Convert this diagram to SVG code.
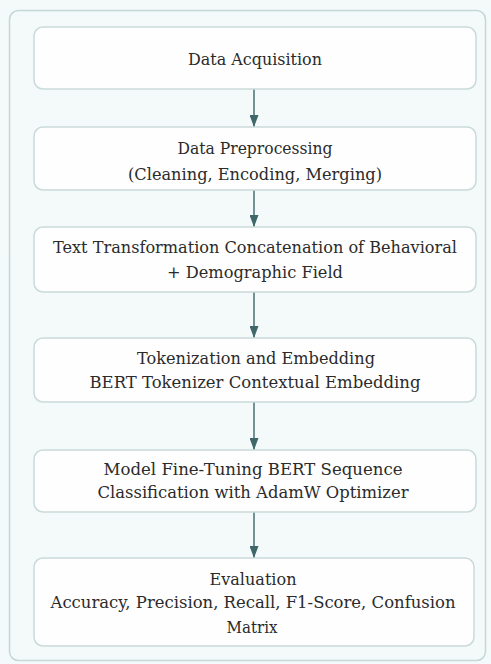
<svg xmlns="http://www.w3.org/2000/svg" width="491" height="664" viewBox="0 0 491 664">
<defs>
<style>
.bg{fill:#f4f9f9;}
.outer{fill:#f4f9f9;stroke:#c4d8d8;stroke-width:1.5;}
.box{fill:#fefefe;stroke:#c9dad9;stroke-width:1.5;}
.t{font-family:"DejaVu Serif","Liberation Serif",serif;font-size:17px;fill:#2b2b2b;text-anchor:middle;}
.conn{stroke:#4b6f72;stroke-width:1.5;fill:none;marker-end:url(#ah);}
</style>
<marker id="ah" viewBox="0 0 12 9" refX="12" refY="4.5" markerWidth="12" markerHeight="9" markerUnits="userSpaceOnUse" orient="auto">
<path d="M0,0 L12,4.5 L0,9 Z" fill="#3f6669"/>
</marker>
</defs>
<rect class="bg" x="0" y="0" width="491" height="664"/>
<rect class="outer" x="9.5" y="10.5" width="476" height="650" rx="9"/>

<g id="connectors">
<line class="conn" x1="254" y1="89" x2="254" y2="127"/>
<line class="conn" x1="254" y1="190" x2="254" y2="227"/>
<line class="conn" x1="254" y1="292" x2="254" y2="338"/>
<line class="conn" x1="254" y1="402" x2="254" y2="450"/>
<line class="conn" x1="254" y1="512" x2="254" y2="558"/>
</g>

<g id="n1">
<rect class="box" x="34" y="27" width="442" height="62" rx="9"/>
<text class="t" x="255" y="65" textLength="134" lengthAdjust="spacingAndGlyphs">Data Acquisition</text>
</g>
<g id="n2">
<rect class="box" x="34" y="127" width="442" height="63" rx="9"/>
<text class="t" x="255" y="154" textLength="155" lengthAdjust="spacingAndGlyphs">Data Preprocessing</text>
<text class="t" x="255" y="180" textLength="254" lengthAdjust="spacingAndGlyphs">(Cleaning,  Encoding,  Merging)</text>
</g>
<g id="n3">
<rect class="box" x="34" y="227" width="442" height="65" rx="9"/>
<text class="t" x="255" y="253" textLength="404" lengthAdjust="spacingAndGlyphs">Text Transformation  Concatenation  of Behavioral</text>
<text class="t" x="255" y="278" textLength="176" lengthAdjust="spacingAndGlyphs">+ Demographic  Field</text>
</g>
<g id="n4">
<rect class="box" x="34" y="338" width="442" height="64" rx="9"/>
<text class="t" x="256" y="364" textLength="238" lengthAdjust="spacingAndGlyphs">Tokenization  and Embedding</text>
<text class="t" x="255" y="388" textLength="331" lengthAdjust="spacingAndGlyphs">BERT Tokenizer  Contextual  Embedding</text>
</g>
<g id="n5">
<rect class="box" x="34" y="450" width="442" height="62" rx="9"/>
<text class="t" x="253" y="475" textLength="299" lengthAdjust="spacingAndGlyphs">Model Fine-Tuning  BERT  Sequence</text>
<text class="t" x="253" y="498" textLength="311" lengthAdjust="spacingAndGlyphs">Classification  with  AdamW  Optimizer</text>
</g>
<g id="n6">
<rect class="box" x="34" y="558" width="440" height="88" rx="9"/>
<text class="t" x="253" y="585" textLength="87" lengthAdjust="spacingAndGlyphs">Evaluation</text>
<text class="t" x="253" y="608" textLength="405" lengthAdjust="spacingAndGlyphs">Accuracy,  Precision,  Recall,  F1-Score, Confusion</text>
<text class="t" x="252" y="633" textLength="51" lengthAdjust="spacingAndGlyphs">Matrix</text>
</g>
</svg>
